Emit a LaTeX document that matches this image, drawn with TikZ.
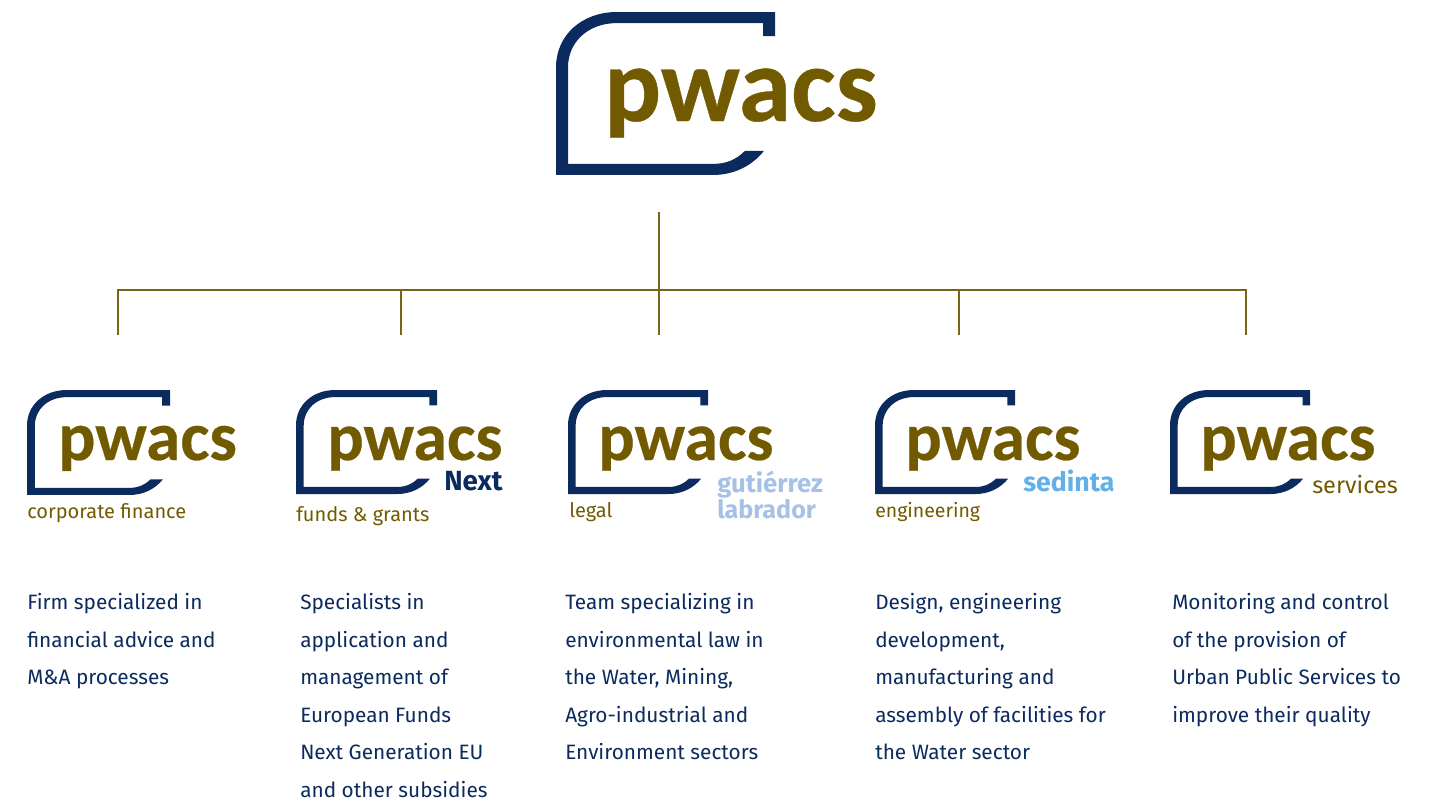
\documentclass[tikz,border=0pt]{standalone}
\usepackage{fontspec}
\setmainfont{Fira Sans}
\newfontfamily\logofont{Carlito}[BoldFont=Carlito Bold,BoldFeatures={FakeBold=0.35}]
\definecolor{navy}{HTML}{0B2A5E}
\definecolor{gold}{HTML}{725A00}
\definecolor{rulegold}{HTML}{7A6418}
\definecolor{paleblue}{HTML}{A6C1E8}
\definecolor{skyblue}{HTML}{63B0E8}
\newcommand{\pxsize}[1]{\fontsize{#1}{#1}\selectfont}
% #1 x, #2 y, #3 x scale, #4 y scale, #5 node name
\newcommand{\logomark}[5]{%
  \fill[navy,xshift=#1*0.75pt,yshift=-#2*0.75pt,xscale=#3,yscale=#4]
    (219,0) -- (219,24) -- (207,24) -- (207,11) -- (61,11)
    .. controls (32,11) and (12,30) .. (12,55) -- (12,151) -- (157,151)
    .. controls (170,151) and (180,147) .. (189,138) -- (208,138)
    .. controls (196,153) and (178,162) .. (157,162) -- (0,162) -- (0,55)
    .. controls (0,23) and (26,0) .. (61,0) -- cycle;
  \coordinate (#5) at (#1,#2);%
}
\tikzset{
  x=0.75pt,y=-0.75pt,
  wordmark/.style={font=\logofont\bfseries\pxsize{51pt},text=gold,anchor=base west,inner sep=0pt},
  bigmark/.style={wordmark,font=\logofont\bfseries\pxsize{79.6pt}},
  subtitle/.style={font=\pxsize{15pt},text=gold,anchor=base west,inner sep=0pt},
  brand/.style={font=\bfseries\pxsize{19.5pt},anchor=base west,inner sep=0pt,align=left},
  blurb/.style={font=\fontsize{15.6pt}{28.15pt}\selectfont,text=navy,anchor=north west,inner sep=0pt,align=left},
  busline/.style={draw=rulegold,line width=1.3pt},
}
\begin{document}
\begin{tikzpicture}
\useasboundingbox (0,0) rectangle (1433,803);
% top logo
\logomark{556}{12}{1}{1.006}{logoTop}
\node[bigmark] (markTop) at (604,121) {pwacs};
% connectors
\coordinate (trunkTop) at (659,212);
\coordinate (busC) at (659,290);
\coordinate (busA) at (118,290);
\coordinate (busB) at (401,290);
\coordinate (busD) at (959,290);
\coordinate (busE) at (1246,290);
\coordinate (dropA) at (118,335);
\coordinate (dropB) at (401,335);
\coordinate (dropC) at (659,335);
\coordinate (dropD) at (959,335);
\coordinate (dropE) at (1246,335);
\draw[busline] (trunkTop) -- (dropC);
\draw[busline] (dropA) -- (busA) -- (busE) -- (dropE);
\draw[busline] (busB) -- (dropB);
\draw[busline] (busD) -- (dropD);
% logos
\logomark{27}{390}{0.653}{0.648}{logoA}
\node[wordmark,font=\logofont\bfseries\pxsize{52pt}] (markA) at (58,460) {pwacs};
\node[subtitle] (subA) at (27,518) {corporate finance};
\logomark{296}{390}{0.644}{0.642}{logoB}
\node[wordmark] (markB) at (327,460) {pwacs};
\node[brand,text=navy,font=\bfseries\pxsize{20.8pt}] (brandB) at (444,490) {Next};
\node[subtitle] (subB) at (296,521) {funds \& grants};
\logomark{568}{390}{0.64}{0.642}{logoC}
\node[wordmark] (markC) at (598,460) {pwacs};
\node[subtitle] (subC) at (569,517) {legal};
\node[brand,text=paleblue,anchor=north west] (brandC) at (717,471) {\fontsize{19.3pt}{19pt}\selectfont gutiérrez\\\fontsize{18.8pt}{19pt}\selectfont labrador};
\logomark{875}{390}{0.64}{0.642}{logoD}
\node[wordmark] (markD) at (905,460) {pwacs};
\node[subtitle,font=\pxsize{14.6pt}] (subD) at (875,517) {engineering};
\node[brand,text=skyblue,font=\bfseries\pxsize{20pt}] (brandD) at (1023,491) {sedinta};
\logomark{1170}{390}{0.64}{0.642}{logoE}
\node[wordmark] (markE) at (1200,460) {pwacs};
\node[subtitle,font=\pxsize{17.6pt}] (subE) at (1312,493) {services};
% descriptions
\node[blurb] (textA) at (27,593) {Firm specialized in\\financial advice and\\M\&A processes};
\node[blurb] (textB) at (300,593) {Specialists in\\application and\\management of\\European Funds\\Next Generation EU\\and other subsidies};
\node[blurb] (textC) at (565,593) {Team specializing in\\environmental law in\\the Water, Mining,\\Agro-industrial and\\Environment sectors};
\node[blurb] (textD) at (875,593) {Design, engineering\\development,\\manufacturing and\\assembly of facilities for\\the Water sector};
\node[blurb] (textE) at (1172,593) {Monitoring and control\\of the provision of\\Urban Public Services to\\improve their quality};
\end{tikzpicture}
\end{document}
